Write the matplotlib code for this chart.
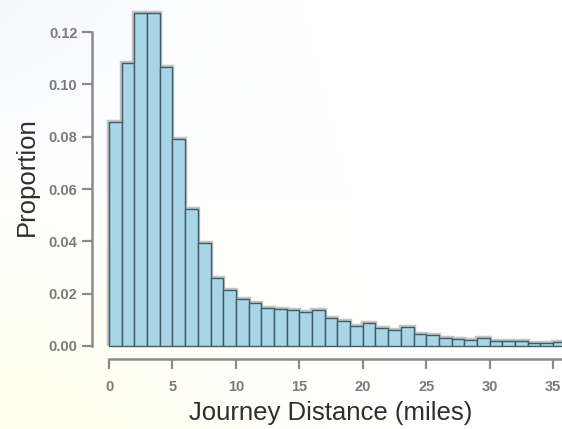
import numpy as np
import matplotlib
matplotlib.use("Agg")
import matplotlib.pyplot as plt

plt.rcParams['font.family'] = ['Liberation Sans', 'DejaVu Sans']

# histogram of journey distances, 1-mile bins starting at 0
bin_edges = list(range(0, 37))
proportions = [0.0858, 0.1083, 0.1275, 0.1275, 0.1068, 0.0790, 0.0523, 0.0394,
               0.0261, 0.0212, 0.0180, 0.0163, 0.0146, 0.0141, 0.0137, 0.0131,
               0.0138, 0.0106, 0.0097, 0.0076, 0.0089, 0.0070, 0.0061, 0.0071,
               0.0046, 0.0042, 0.0032, 0.0025, 0.0023, 0.0029, 0.0020, 0.0017,
               0.0018, 0.0013, 0.0013, 0.0015]
x_ticks = [0, 5, 10, 15, 20, 25, 30, 35]
y_ticks = [0.00, 0.02, 0.04, 0.06, 0.08, 0.10, 0.12]

fig = plt.figure(figsize=(5.62, 4.29), dpi=100)

# faint slide background
bg = fig.add_axes([0, 0, 1, 1], zorder=-1)
gx, gy = np.meshgrid(np.linspace(0, 1, 200), np.linspace(0, 1, 150))
band = np.clip(1.0 - gx * 1.6 + (gy - 0.5) * 0.3, 0, 1)
img = np.ones((150, 200, 3))
top = np.clip(1 - gy * 2.2, 0, 1) * band
bot = np.clip(gy * 1.6 - 0.6, 0, 1) * band
img[..., 0] -= 0.04 * top
img[..., 1] -= 0.03 * top
img[..., 2] -= 0.07 * bot
bg.imshow(img, aspect='auto', extent=[0, 1, 0, 1])
bg.axis('off')

ax = fig.add_axes([0.1637, 0.1632, 0.8363, 0.8251])
ax.patch.set_alpha(0)

lefts = bin_edges[:-1]
ax.stairs(proportions, bin_edges, color='#c4c4c4', lw=3.2, zorder=1)
ax.bar(lefts, proportions, width=1, align='edge', color='#a9d6e6',
       edgecolor='#3f5b66', linewidth=1.0, zorder=2)

ax.set_xlim(-1.34, 35.7)
ax.set_ylim(-0.005, 0.1304)

for s in ['top', 'right']:
    ax.spines[s].set_visible(False)
ax.spines['left'].set_bounds(0, 0.12)
ax.spines['bottom'].set_bounds(0, 36)
for s in ['left', 'bottom']:
    ax.spines[s].set_color('#8a8a8a')
    ax.spines[s].set_linewidth(1.8)

ax.set_xticks(x_ticks)
ax.set_yticks(y_ticks)
ax.set_yticklabels(['%.2f' % v for v in y_ticks])
ax.tick_params(axis='both', colors='#8a8a8a', width=1.6, length=7,
               labelsize=10.5, labelcolor='#7a7a7a')
ax.tick_params(axis='x', pad=8)
for lab in ax.get_xticklabels() + ax.get_yticklabels():
    lab.set_fontweight('bold')

fig.text(0.048, 0.588, 'Proportion', rotation=90, ha='center', va='center',
         fontsize=18.5, color='#2e2e2e')
fig.text(0.589, 0.037, 'Journey Distance (miles)', ha='center', va='center',
         fontsize=18.5, color='#2e2e2e')

fig.savefig('out.png', dpi=100)
